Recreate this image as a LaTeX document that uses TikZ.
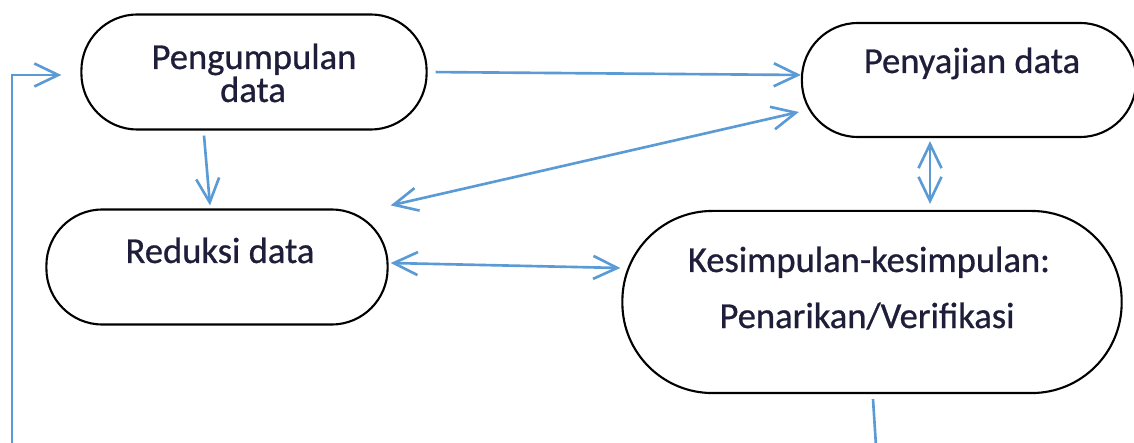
\documentclass[tikz,border=0pt]{standalone}
\usepackage{fontspec}
\setmainfont{Carlito}[FakeBold=0.7]
\usepackage{xcolor}
\usepackage{tikz}
\usetikzlibrary{positioning, arrows.meta, calc}
\definecolor{flowColor}{RGB}{91,155,213}
\definecolor{textColor}{RGB}{30,30,58}
\tikzset{
    stagebox/.style={
        draw,
        line width=0.6pt,
        rounded corners=0.56cm,
        minimum width=3.43cm,
        minimum height=1.15cm
    },
    stagetext/.style={
        anchor=base,
        text=textColor,
        font=\fontsize{10.4}{12}\selectfont,
        inner sep=0pt
    },
    flow/.style={
        -{Straight Barb[length=2.4mm, width=2.3mm]},
        flowColor,
        line width=0.75pt
    },
    flowboth/.style={
        flow,
        {Straight Barb[length=2.4mm, width=2.3mm]}-{Straight Barb[length=2.4mm, width=2.3mm]}
    },
    flowline/.style={
        flowColor,
        line width=0.75pt
    }
}

\begin{document}
\begin{tikzpicture}[x=0.01cm, y=-0.01cm]
    \useasboundingbox (0,0) rectangle (1134,443);

    \node[stagebox, minimum width=3.45cm] (Collect) at (254,72) {};
    \node[stagebox, minimum width=3.34cm, minimum height=1.14cm] (Display) at (969,80) {};
    \node[stagebox, minimum width=3.41cm] (Reduce) at (217,267) {};
    \node[stagebox, rounded corners=0.9cm, minimum width=4.99cm, minimum height=1.82cm] (Conclude) at (872,302) {};

    \node[stagetext] (CollectA) at (254,69) {Pengumpulan};
    \node[stagetext] (CollectB) at (253,102) {data};
    \node[stagetext] (DisplayA) at (972,73) {Penyajian data};
    \node[stagetext] (ReduceA) at (220,263) {Reduksi data};
    \node[stagetext] (ConcludeA) at (869,272) {Kesimpulan-kesimpulan:};
    \node[stagetext] (ConcludeB) at (867,328) {Penarikan/Verifikasi};

    % Links
    \draw[flow, shorten <=0.08cm] (Collect.east) -- ($(Display.west)+(0,-5)$);
    \draw[flow] ($(Collect.south)+(-50,5)$) -- ($(Reduce.north)+(-7,-3)$);
    \draw[flowboth] ($(Reduce.north east)+(2,-3)$) -- ($(Display.west)+(-2,32)$);
    \draw[flowboth] ($(Reduce.east)+(2,-4)$) -- ($(Conclude.west)+(-1,-34)$);
    \draw[flowboth] ($(Display.south)+(-39,3)$) -- ($(Conclude.north)+(58,-6)$);

    % Loop back
    \coordinate (LoopEnd) at (876,446);
    \coordinate (LoopStart) at (12,446);
    \draw[flowline] ($(Conclude.south)+(1,5)$) -- (LoopEnd);
    \draw[flow] (LoopStart) |- ($(Collect.west)+(-19,3)$);
\end{tikzpicture}
\end{document}
